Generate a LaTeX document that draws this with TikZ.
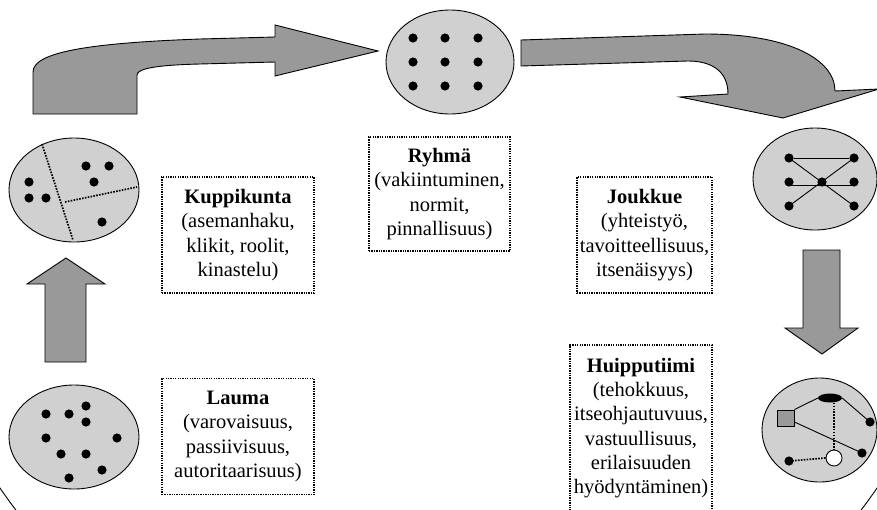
\documentclass[tikz,border=0pt]{standalone}
\usepackage{fontspec}
\setmainfont{Liberation Serif}
\usetikzlibrary{shapes.geometric}
\definecolor{arrowgray}{RGB}{153,153,153}
\definecolor{blobgray}{RGB}{208,208,208}
\begin{document}
\begin{tikzpicture}[x=1pt,y=-1pt,
  blob/.style={ellipse, draw=black, line width=0.9pt, fill=blobgray, inner sep=0pt},
  dot/.style={circle, fill=black, inner sep=0pt, minimum size=9.2pt},
  bigarrow/.style={draw=black, line width=0.9pt, fill=arrowgray, line join=miter},
  lab/.style={draw=black, dash pattern=on 1.3pt off 1.1pt, line width=1.3pt, align=center, inner sep=0pt,
    font=\fontsize{20.5}{24.3}\selectfont, text=black},
  link/.style={draw=black, line width=0.9pt},
  dotlink/.style={draw=black, dash pattern=on 1.6pt off 1.3pt, line width=1.7pt}]
\useasboundingbox (0,0) rectangle (877,509);
\clip (0,0) rectangle (877,509);
% background circle
\draw[line width=0.9pt] (438.5,188.5) circle [radius=531];
% top-left arrow
\path[bigarrow] (33,114) -- (33,72) .. controls (33,52) and (90,43) .. (200,39) -- (275,37) -- (275,25) -- (378,51) -- (275,76) -- (275,62) -- (200,64) .. controls (160,65) and (137,68) .. (137,75) -- (137,114) -- cycle;
% top-right arrow
\path[bigarrow] (521,40) -- (705,34) .. controls (790,34) and (835,60) .. (835,91) -- (879,89) -- (783,118) -- (680,97) -- (728,94) .. controls (728,70) and (710,61) .. (688,61) -- (521,66) -- cycle;
% up arrow
\path[bigarrow] (45,362) -- (45,284) -- (27,284) -- (66,258) -- (105,284) -- (86,284) -- (86,362) -- cycle;
% down arrow
\path[bigarrow] (803,250) -- (840,250) -- (840,328) -- (858,328) -- (822,354) -- (785,328) -- (803,328) -- cycle;

% Ryhma ellipse
\node[blob, minimum width=128pt, minimum height=104pt] (ryhma) at (450,62) {};
\foreach \i/\x in {1/413,2/445,3/478}{
  \foreach \j/\y in {1/38,2/62,3/86}{
    \node[dot] (r\i\j) at (\x,\y) {};
  }
}
% Kuppikunta ellipse
\node[blob, minimum width=130pt, minimum height=104pt] (kuppi) at (74,190) {};
\coordinate (k1a) at (42,144);
\coordinate (k1b) at (73,240);
\coordinate (k2a) at (65,202);
\coordinate (k2b) at (137,187);
\draw[dotlink] (k1a) -- (k1b);
\draw[dotlink] (k2a) -- (k2b);
\node[dot] (kd1) at (29,182) {};
\node[dot] (kd2) at (29,198) {};
\node[dot] (kd3) at (46,198) {};
\node[dot] (kd4) at (86,166) {};
\node[dot] (kd5) at (109,166) {};
\node[dot] (kd6) at (94,182) {};
\node[dot] (kd7) at (102,222) {};
% Lauma ellipse
\node[blob, minimum width=130pt, minimum height=104pt] (lauma) at (74,437) {};
\foreach \n/\x/\y in {1/46/414,2/69/414,3/86/406,4/86/422,5/46/438,6/117/438,7/61/454,8/86/454,9/102/470,10/69/478}{
  \node[dot] (ld\n) at (\x,\y) {};
}
% Joukkue ellipse
\node[blob, minimum width=124pt, minimum height=102pt] (jouk) at (815,179) {};
\node[dot] (j1) at (789,158) {};
\node[dot] (j2) at (854,158) {};
\node[dot] (j3) at (789,182) {};
\node[dot] (j4) at (822,182) {};
\node[dot] (j5) at (854,182) {};
\node[dot] (j6) at (789,206) {};
\node[dot] (j7) at (854,206) {};
\draw[link] (j1) -- (j2);
\draw[link] (j1.center) -- (j7.center);
\draw[link] (j2.center) -- (j6.center);
\draw[link] ([yshift=-3pt]j3.center) -- ([yshift=-3pt]j5.center);
% Huipputiimi ellipse
\node[blob, minimum width=115pt, minimum height=104pt] (huip) at (819.5,430) {};
\node[ellipse, fill=black, inner sep=0pt, minimum width=24pt, minimum height=9pt] (h0) at (830,398) {};
\node[rectangle, draw=black, line width=0.9pt, fill=arrowgray, inner sep=0pt, minimum width=17pt, minimum height=16pt] (hsq) at (785.5,418) {};
\node[dot] (h1) at (870,422) {};
\node[dot] (h2) at (862,453) {};
\node[dot] (h3) at (789,461) {};
\node[circle, draw=black, line width=0.9pt, fill=white, inner sep=0pt, minimum size=16pt] (hw) at (834,458) {};
\draw[link] (hsq.north east) -- (h0.west);
\draw[link] (h0.east) -- (h1.center);
\draw[link] ([yshift=-4pt]hsq.east) -- (h2.center);
\draw[dotlink] (h0.south -| hw.north) -- (hw.north);
\draw[dotlink] (hw.west) -- (h3.center);

% labels
\node[lab, minimum width=141pt, minimum height=114pt] (tryhma) at (439.5,194) {\textbf{Ryhmä}\\(vakiintuminen,\\normit,\\pinnallisuus)};
\node[lab, minimum width=152pt, minimum height=116pt] (tkuppi) at (238,235) {\textbf{Kuppikunta}\\(asemanhaku,\\klikit, roolit,\\kinastelu)};
\node[lab, minimum width=135pt, minimum height=116pt] (tjouk) at (644.5,235) {\textbf{Joukkue}\\(yhteistyö,\\tavoitteellisuus,\\itsenäisyys)};
\node[lab, minimum width=152pt, minimum height=116pt] (tlauma) at (238,436.5) {\textbf{Lauma}\\(varovaisuus,\\passiivisuus,\\autoritaarisuus)};
\node[lab, minimum width=142pt, minimum height=166pt] (thuip) at (641,428) {\textbf{Huipputiimi}\\(tehokkuus,\\itseohjautuvuus,\\vastuullisuus,\\erilaisuuden\\hyödyntäminen)};
\end{tikzpicture}
\end{document}
